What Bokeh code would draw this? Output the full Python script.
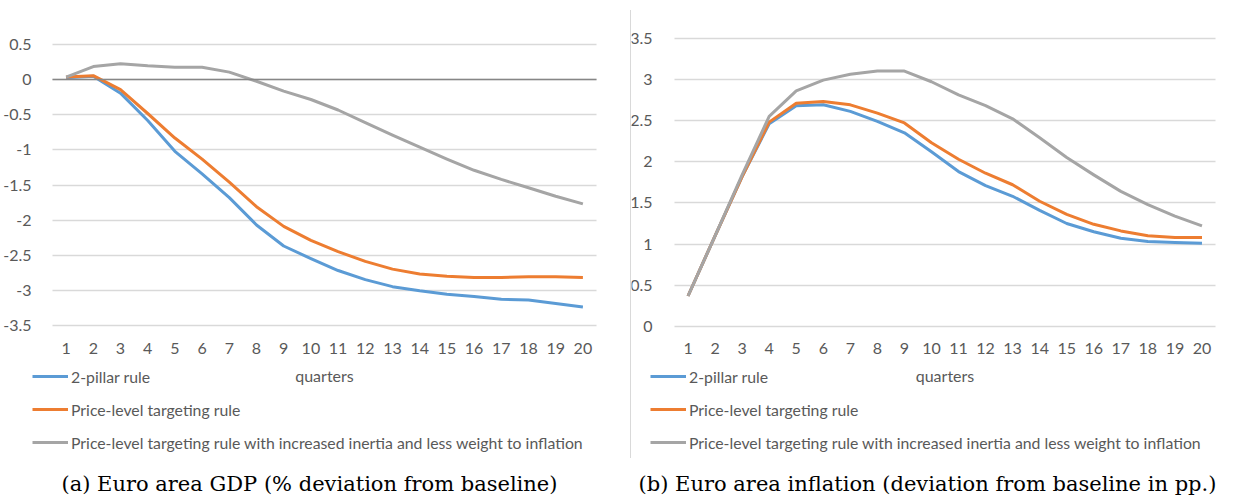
from bokeh.plotting import figure
from bokeh.models import (Legend, LegendItem, Label, FixedTicker, Div, LinearAxis)
from bokeh.layouts import row
from bokeh.embed import file_html
from bokeh.resources import INLINE

quarters = list(range(1, 21))
quarter_labels = [str(q) for q in quarters]

series_names = ["2-pillar rule", "Price-level targeting rule",
                "Price-level targeting rule with increased inertia and less weight to inflation"]
series_colors = ["#5B9BD5", "#ED7D31", "#A5A5A5"]

gdp_two_pillar = [0.03, 0.05, -0.19, -0.58, -1.02, -1.34, -1.68, -2.07, -2.37, -2.55,
                  -2.72, -2.85, -2.95, -3.01, -3.06, -3.09, -3.13, -3.14, -3.19, -3.24]
gdp_plt = [0.04, 0.06, -0.14, -0.48, -0.83, -1.13, -1.46, -1.81, -2.09, -2.29,
           -2.45, -2.59, -2.70, -2.77, -2.80, -2.82, -2.82, -2.81, -2.81, -2.82]
gdp_plt_inertia = [0.04, 0.19, 0.23, 0.20, 0.18, 0.18, 0.11, -0.02, -0.16, -0.28,
                   -0.43, -0.61, -0.79, -0.96, -1.13, -1.29, -1.42, -1.54, -1.66, -1.77]

infl_two_pillar = [0.37, 1.10, 1.82, 2.46, 2.68, 2.69, 2.61, 2.49, 2.35, 2.12,
                   1.88, 1.71, 1.58, 1.41, 1.25, 1.15, 1.07, 1.03, 1.02, 1.01]
infl_plt = [0.37, 1.10, 1.82, 2.48, 2.71, 2.73, 2.69, 2.59, 2.47, 2.23,
            2.03, 1.86, 1.72, 1.52, 1.36, 1.24, 1.16, 1.10, 1.08, 1.08]
infl_plt_inertia = [0.37, 1.10, 1.84, 2.55, 2.86, 2.99, 3.06, 3.10, 3.10, 2.97,
                    2.81, 2.68, 2.52, 2.29, 2.05, 1.84, 1.64, 1.48, 1.34, 1.22]

gdp_ticks = [0.5, 0, -0.5, -1, -1.5, -2, -2.5, -3, -3.5]
gdp_tick_labels = ["0.5", "0", "-0.5", "-1", "-1.5", "-2", "-2.5", "-3", "-3.5"]
infl_ticks = [3.5, 3, 2.5, 2, 1.5, 1, 0.5, 0]
infl_tick_labels = ["3.5", "3", "2.5", "2", "1.5", "1", "0.5", "0"]

x_title = "quarters"
caption_a = "(a) Euro area GDP (% deviation from baseline)"
caption_b = "(b) Euro area inflation (deviation from baseline in pp.)"

FONT = "Lato"
FS = "16px"
LEG_FS = "15.8px"
TXT = "#595959"
GRID = "#D9D9D9"
CAP_FONT = "DejaVu Serif"
CAP_FS = "21px"

X_LO, X_HI = quarters[0] - 0.5, quarters[-1] + 0.5


def make_chart(width, height, xrange, yrange, ticks, tick_labels, series, caption,
               y_std, x_std, leg_xy, cap_xy):
    p = figure(width=width, height=height, output_backend="svg", toolbar_location=None,
               x_range=xrange, y_range=yrange, x_axis_location=None, y_axis_location=None,
               min_border=0)
    p.outline_line_color = None
    p.background_fill_color = "white"
    p.border_fill_color = "white"
    p.xgrid.grid_line_color = None
    g = p.ygrid[0]
    g.grid_line_color = GRID
    g.grid_line_width = 1.3
    g.ticker = FixedTicker(ticks=ticks)
    try:
        g.cross_bounds = (X_LO, X_HI)
    except Exception:
        pass

    yax = LinearAxis(fixed_location=X_LO, ticker=FixedTicker(ticks=ticks),
                     bounds=(min(ticks), max(ticks)),
                     major_label_overrides={t: l for t, l in zip(ticks, tick_labels)})
    xax = LinearAxis(fixed_location=ticks[-1], ticker=FixedTicker(ticks=quarters),
                     bounds=(X_LO, X_HI),
                     major_label_overrides={q: l for q, l in zip(quarters, quarter_labels)},
                     axis_label=x_title)
    for ax in (xax, yax):
        ax.axis_line_color = None
        ax.major_tick_line_color = None
        ax.minor_tick_line_color = None
        ax.major_label_text_font = FONT
        ax.major_label_text_font_size = FS
        ax.major_label_text_color = TXT
    yax.major_label_standoff = y_std
    xax.major_label_standoff = x_std
    xax.axis_label_text_font = FONT
    xax.axis_label_text_font_size = FS
    xax.axis_label_text_font_style = "normal"
    xax.axis_label_text_color = TXT
    xax.axis_label_standoff = 8
    p.add_layout(yax, "left")
    p.add_layout(xax, "below")

    items = []
    for name, color, vals in zip(series_names, series_colors, series):
        r = p.line(quarters, vals, line_color=color, line_width=3, line_join="round")
        items.append(LegendItem(label=name, renderers=[r]))
    leg = Legend(items=items, location=leg_xy, orientation="vertical",
                 glyph_width=36, glyph_height=20, label_height=20, label_standoff=3,
                 spacing=13, padding=0, margin=0,
                 border_line_color=None, background_fill_alpha=0,
                 label_text_font=FONT, label_text_font_size=LEG_FS, label_text_color=TXT)
    p.add_layout(leg, "center")
    p.add_layout(Label(x=cap_xy[0], y=cap_xy[1], x_units="screen", y_units="screen",
                       text=caption, text_align="center", text_baseline="middle",
                       text_font=CAP_FONT, text_font_size=CAP_FS, text_color="#000000"))
    return p


# left chart: quarters 0.5..20.5 span page x 52..596, 0.5..-3.5 span y 44.3..324.7
p1 = make_chart(630, 500, (-1.4118, 21.75), (-6.0007, 1.132), gdp_ticks, gdp_tick_labels,
                [gdp_two_pillar, gdp_plt, gdp_plt_inertia], caption_a,
                15, 12, (32, 48), (309, 17))
zero_axis = LinearAxis(fixed_location=0, ticker=FixedTicker(ticks=[]), bounds=(X_LO, X_HI),
                       axis_line_color="#868686", axis_line_width=1.5,
                       major_tick_line_color=None, minor_tick_line_color=None)
p1.add_layout(zero_axis, "below")

sep = Div(text="", width=1, height=448, margin=(10, 0, 0, 0),
          styles={"background-color": GRID})

# right chart: quarters span page x 674..1215 (local 43..584), 3.5..0 span y 37.6..326
p2 = make_chart(613, 500, (-1.0896, 21.572), (-2.1117, 3.956), infl_ticks, infl_tick_labels,
                [infl_two_pillar, infl_plt, infl_plt_inertia], caption_b,
                16, 11, (19, 48), (296, 17))

layout = row(p1, sep, p2)
open("out.html", "w").write(file_html(layout, INLINE))
